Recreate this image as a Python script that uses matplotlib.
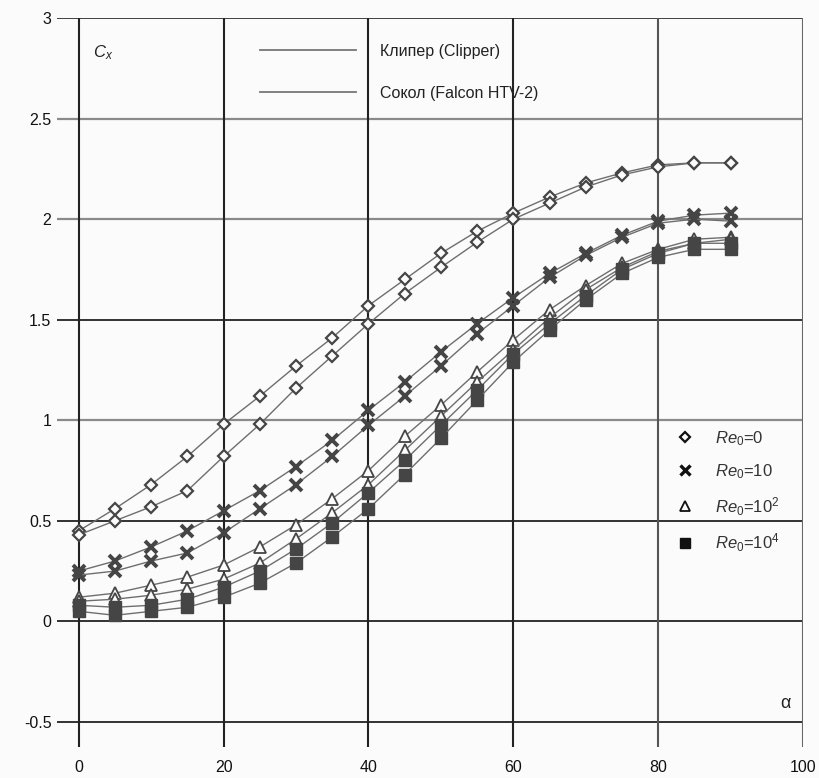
import numpy as np
import matplotlib
matplotlib.use('Agg')
import matplotlib.pyplot as plt
from matplotlib.lines import Line2D

plt.rcParams['font.family'] = ['Liberation Sans', 'DejaVu Sans']
plt.rcParams['mathtext.fontset'] = 'custom'
plt.rcParams['mathtext.rm'] = 'Liberation Sans'
plt.rcParams['mathtext.it'] = 'Liberation Sans:italic'

# ── data ──────────────────────────────────────────────────────────────────────
alpha = [0, 5, 10, 15, 20, 25, 30, 35, 40, 45, 50, 55, 60, 65, 70, 75, 80, 85, 90]

# Re0 = 0
re0_a = [0.45, 0.56, 0.68, 0.82, 0.98, 1.12, 1.27, 1.41, 1.57, 1.70, 1.83, 1.94, 2.03, 2.11, 2.18, 2.23, 2.27, 2.28, 2.28]
re0_b = [0.43, 0.50, 0.57, 0.65, 0.82, 0.98, 1.16, 1.32, 1.48, 1.63, 1.76, 1.885, 2.00, 2.08, 2.16, 2.22, 2.26, 2.28, 2.28]
# Re0 = 10
re1_a = [0.25, 0.30, 0.37, 0.45, 0.55, 0.65, 0.77, 0.90, 1.05, 1.19, 1.34, 1.48, 1.61, 1.73, 1.83, 1.92, 1.99, 2.02, 2.03]
re1_b = [0.23, 0.25, 0.30, 0.34, 0.44, 0.56, 0.68, 0.82, 0.975, 1.12, 1.27, 1.43, 1.57, 1.71, 1.82, 1.91, 1.98, 2.00, 1.99]
# Re0 = 10^2
re2_a = [0.12, 0.14, 0.18, 0.22, 0.28, 0.37, 0.48, 0.61, 0.75, 0.92, 1.075, 1.24, 1.40, 1.55, 1.67, 1.78, 1.85, 1.90, 1.91]
re2_b = [0.10, 0.11, 0.13, 0.16, 0.21, 0.29, 0.41, 0.54, 0.68, 0.85, 1.02, 1.19, 1.35, 1.51, 1.65, 1.76, 1.84, 1.88, 1.90]
# Re0 = 10^4
re4_a = [0.08, 0.07, 0.08, 0.11, 0.17, 0.25, 0.36, 0.49, 0.64, 0.80, 0.975, 1.15, 1.33, 1.48, 1.62, 1.75, 1.83, 1.88, 1.88]
re4_b = [0.05, 0.03, 0.05, 0.07, 0.12, 0.19, 0.29, 0.42, 0.56, 0.73, 0.91, 1.10, 1.29, 1.45, 1.60, 1.73, 1.81, 1.85, 1.85]

x_ticks = [0, 20, 40, 60, 80, 100]
y_ticks = [-0.5, 0, 0.5, 1, 1.5, 2, 2.5, 3]
vehicle_labels = ['Клипер (Clipper)', 'Сокол (Falcon HTV-2)']
re_labels = [r'$Re_0$=0', r'$Re_0$=10', r'$Re_0$=10$^2$', r'$Re_0$=10$^4$']

# ── styles ────────────────────────────────────────────────────────────────────
BG = '#fbfbfb'
LINE = '#6e6e6e'
MK = '#454545'
styles = [
    dict(marker='D', ms=6.5, mfc=BG, mec=MK, mew=1.6),
    dict(marker='x', ms=9, mec=MK, mew=2.8),
    dict(marker='^', ms=8.5, mfc=BG, mec=MK, mew=1.3),
    dict(marker='s', ms=8, mfc=MK, mec=MK, mew=1.0),
]
legend_ms = [5, 7, 7.5, 7.5]

fig = plt.figure(figsize=(8.19, 7.78), dpi=100)
fig.patch.set_facecolor(BG)
ax = fig.add_axes([0.0696, 0.0398, 0.911, 0.937])
ax.set_facecolor(BG)

ax.set_xlim(-3, 100)
ax.set_ylim(-0.625, 3)

# grid: some lines darker than others, like the scanned original
hcol = {-0.5: '#222222', 0: '#222222', 0.5: '#222222', 1: '#8a8a8a',
        1.5: '#222222', 2: '#8a8a8a', 2.5: '#8a8a8a', 3: '#333333'}
for yv in y_ticks:
    c = hcol[yv]
    ax.axhline(yv, color=c, lw=1.6 if c == '#8a8a8a' else 1.3, zorder=1)
vcol = {0: '#222222', 20: '#222222', 40: '#222222', 60: '#222222', 80: '#555555', 100: '#666666'}
for xv in x_ticks:
    ax.axvline(xv, color=vcol[xv], lw=1.5, zorder=1)

for st, (ya, yb) in zip(styles, [(re0_a, re0_b), (re1_a, re1_b), (re2_a, re2_b), (re4_a, re4_b)]):
    for yy in (ya, yb):
        ax.plot(alpha, yy, color=LINE, lw=1.0, zorder=3, **st)

for s in ax.spines.values():
    s.set_visible(False)
ax.set_xticks(x_ticks)
ax.set_yticks(y_ticks)
ax.set_yticklabels(['-0.5', '0', '0.5', '1', '1.5', '2', '2.5', '3'])
ax.tick_params(length=0, labelsize=11.5, colors='#111111')
ax.tick_params(axis='x', pad=9)
ax.tick_params(axis='y', pad=4)

ax.text(2.0, 2.83, r'$C_x$', fontsize=12, color='#222222', ha='left', va='center')
ax.text(97.5, -0.41, 'α', fontsize=13, color='#222222', ha='center', va='center')

# legend for the two vehicles
vh = [Line2D([], [], color='#777777', lw=1.3) for _ in vehicle_labels]
leg1 = ax.legend(vh, vehicle_labels, loc='upper left', bbox_to_anchor=(0.272, 0.965),
                 frameon=False, fontsize=11.5, handlelength=6.0, handletextpad=1.5,
                 labelspacing=1.7, borderpad=0, borderaxespad=0)
for t in leg1.get_texts():
    t.set_color('#222222')
ax.add_artist(leg1)

# legend for Re0 markers
mh = []
for st, ms in zip(styles, legend_ms):
    kw = {**st, 'ms': ms, 'mec': '#111111',
          'mfc': '#111111' if st['marker'] == 's' else BG}
    if st['marker'] == 'x':
        kw['mew'] = 2.4
    mh.append(Line2D([], [], ls='none', **kw))
leg2 = ax.legend(mh, re_labels, loc='upper left', bbox_to_anchor=(0.830, 0.436),
                 frameon=False, fontsize=12, handlelength=1.0, handletextpad=1.3,
                 labelspacing=0.85, borderpad=0, borderaxespad=0, numpoints=1)
for t in leg2.get_texts():
    t.set_color('#333333')

fig.savefig('out.png', dpi=100, facecolor=fig.get_facecolor())
